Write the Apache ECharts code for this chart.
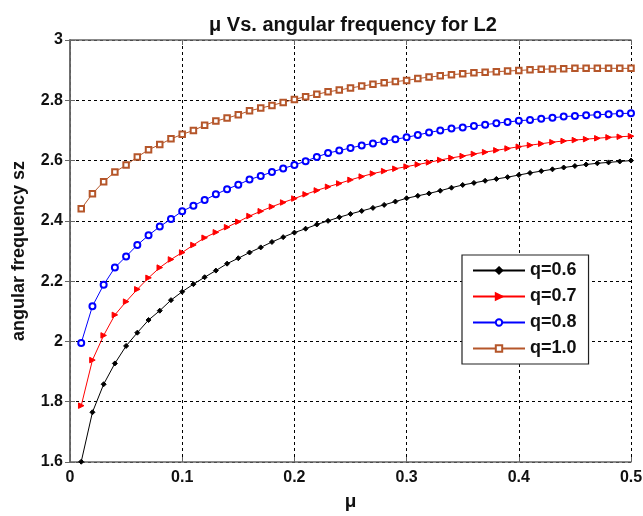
<!DOCTYPE html>
<html><head><meta charset="utf-8">
<script src="https://cdn.jsdelivr.net/npm/echarts@6/dist/echarts.min.js"></script>
<style>html,body{margin:0;padding:0;background:#fff}#c{width:643px;height:516px}</style>
</head><body><div id="c"></div>
<script>
var mu = [0.01,0.02,0.03,0.04,0.05,0.06,0.07,0.08,0.09,0.10,0.11,0.12,0.13,0.14,0.15,0.16,0.17,0.18,0.19,0.20,0.21,0.22,0.23,0.24,0.25,0.26,0.27,0.28,0.29,0.30,0.31,0.32,0.33,0.34,0.35,0.36,0.37,0.38,0.39,0.40,0.41,0.42,0.43,0.44,0.45,0.46,0.47,0.48,0.49,0.50];
var q06 = [1.601,1.765,1.858,1.927,1.985,2.029,2.071,2.102,2.137,2.165,2.19,2.213,2.235,2.258,2.276,2.295,2.312,2.33,2.346,2.361,2.374,2.388,2.40,2.412,2.423,2.433,2.443,2.453,2.464,2.475,2.483,2.491,2.5,2.51,2.519,2.526,2.533,2.539,2.545,2.552,2.559,2.565,2.571,2.577,2.582,2.587,2.591,2.594,2.597,2.6];
var q07 = [1.787,1.938,2.02,2.088,2.132,2.173,2.211,2.245,2.272,2.295,2.32,2.344,2.362,2.379,2.397,2.416,2.432,2.447,2.461,2.474,2.488,2.501,2.513,2.524,2.536,2.547,2.557,2.565,2.573,2.58,2.587,2.594,2.602,2.609,2.615,2.622,2.628,2.634,2.64,2.646,2.651,2.656,2.661,2.665,2.668,2.671,2.674,2.677,2.679,2.681];
var q08 = [1.995,2.117,2.188,2.245,2.282,2.32,2.352,2.381,2.406,2.432,2.45,2.469,2.488,2.505,2.52,2.537,2.549,2.562,2.574,2.585,2.598,2.612,2.625,2.633,2.642,2.65,2.657,2.664,2.671,2.677,2.685,2.693,2.700,2.706,2.71,2.715,2.719,2.724,2.728,2.732,2.735,2.739,2.742,2.746,2.748,2.75,2.752,2.754,2.756,2.757];
var q10 = [2.44,2.49,2.53,2.562,2.585,2.612,2.636,2.653,2.672,2.687,2.70,2.717,2.731,2.741,2.752,2.765,2.774,2.783,2.793,2.803,2.812,2.82,2.828,2.834,2.841,2.847,2.853,2.858,2.862,2.866,2.872,2.877,2.881,2.885,2.888,2.891,2.893,2.895,2.897,2.899,2.901,2.903,2.904,2.905,2.906,2.906,2.906,2.906,2.906,2.906];
var names = ['q=0.6','q=0.7','q=0.8','q=1.0'];
var xTicks = ['0','0.1','0.2','0.3','0.4','0.5'];
var yTicks = ['1.6','1.8','2','2.2','2.4','2.6','2.8','3'];

function pairs(ys){ return mu.map(function(x,i){return [x, ys[i]];}); }
var font = 'Liberation Sans, Arial, sans-serif';
var chart = echarts.init(document.getElementById('c'));
var gridLine = {show:true, lineStyle:{color:'#000', type:[3,3], width:1}};
var axLine = {show:true, lineStyle:{color:'#666', width:1.5}};
function mkSeries(name, ys, color, symbol, size, rot){
  return {name:name, type:'line', data:pairs(ys), symbol:symbol, symbolSize:size, symbolRotate:rot||0,
    showAllSymbol:true, lineStyle:{color:color, width:1}, itemStyle:{color:color, borderColor:color, borderWidth:1},
    emphasis:{disabled:true}, animation:false, z:3};
}
chart.setOption({
  animation:false,
  title:{text:'\u03bc Vs. angular frequency for L2', left:348, top:10, textAlign:'center',
    textStyle:{fontFamily:font, fontSize:20, fontWeight:'bold', color:'#111'}},
  grid:{left:70, right:12, top:40, bottom:54, containLabel:false, outerBoundsMode:'none'},
  xAxis:[{type:'value', min:0, max:0.5, interval:0.1, position:'bottom',
    name:'\u03bc', nameLocation:'middle', nameGap:30,
    nameTextStyle:{fontFamily:font, fontSize:19, fontWeight:'bold', color:'#111'},
    axisLine:axLine, axisTick:{show:true, inside:true, length:5, lineStyle:{color:'#666'}},
    splitLine:gridLine,
    axisLabel:{fontFamily:font, fontSize:16, fontWeight:'bold', color:'#111', margin:8,
      formatter:function(v){ return xTicks[Math.round(v*10)]; }}},
    {type:'value', min:0, max:0.5, interval:0.1, position:'top',
    axisLine:axLine, axisTick:{show:true, inside:true, length:5, lineStyle:{color:'#666'}},
    splitLine:{show:false}, axisLabel:{show:false}}],
  yAxis:[{type:'value', min:1.6, max:3, interval:0.2, position:'left',
    name:'angular frequency sz', nameLocation:'middle', nameGap:42,
    nameTextStyle:{fontFamily:font, fontSize:18, fontWeight:'bold', color:'#111'},
    axisLine:axLine, axisTick:{show:true, inside:true, length:5, lineStyle:{color:'#666'}},
    splitLine:gridLine,
    axisLabel:{fontFamily:font, fontSize:16, fontWeight:'bold', color:'#111', margin:7,
      formatter:function(v){ return yTicks[Math.round((v-1.6)/0.2)]; }}},
    {type:'value', min:1.6, max:3, interval:0.2, position:'right',
    axisLine:axLine, axisTick:{show:true, inside:true, length:5, lineStyle:{color:'#666'}},
    splitLine:{show:false}, axisLabel:{show:false}}],
  legend:{orient:'vertical', left:462, top:255, padding:[6,12,6,10], itemGap:7,
    itemWidth:52, itemHeight:8, backgroundColor:'#fff', borderColor:'#222', borderWidth:1.2,
    textStyle:{fontFamily:font, fontSize:18, fontWeight:'bold', color:'#111', lineHeight:19},
    data:names},
  series:[
    mkSeries(names[0], q06, '#000000', 'diamond', 5),
    mkSeries(names[1], q07, '#ff0000', 'triangle', 5.5, -90),
    mkSeries(names[2], q08, '#0000ff', 'emptyCircle', 6),
    mkSeries(names[3], q10, '#b5562a', 'emptyRect', 5.5)
  ]
});
</script></body></html>
